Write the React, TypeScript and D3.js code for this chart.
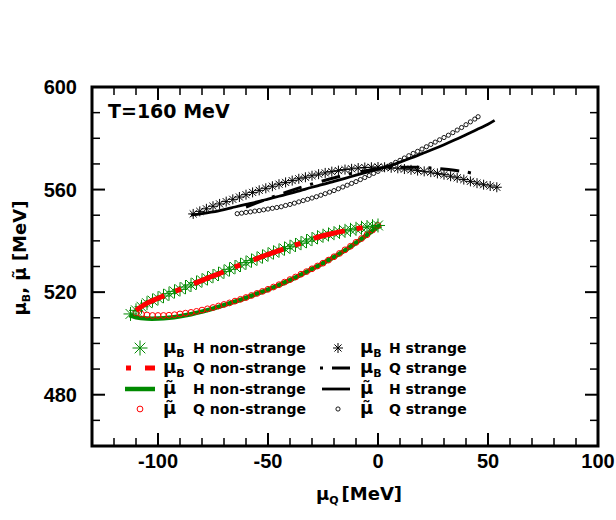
import React from "react";
import * as d3 from "d3";

// ---------- data ----------
// mu_B, H non-strange (green asterisks) and Q non-strange (red dash-dot): upper branch
const muBHnsX = [-112.5,-110,-107.5,-105,-102.5,-100,-97.5,-95,-92.5,-90,-87.5,-85,-82.5,-80,-77.5,-75,-72.5,-70,-67.5,-65,-62.5,-60,-57.5,-55,-52.5,-50,-47.5,-45,-42.5,-40,-37.5,-35,-32.5,-30,-27.5,-25,-22.5,-20,-17.5,-15,-12.5,-10,-7.5,-5,-2.5,0];
const muBHnsY = [511.5,512.9,514.3,515.7,516.7,517.6,518.5,519.4,520.3,521.1,522.0,522.8,523.7,524.6,525.4,526.3,527.1,528.0,528.9,529.8,530.6,531.5,532.3,533.1,533.9,534.7,535.5,536.2,537.0,537.7,538.4,539.1,539.9,540.7,541.4,542.0,542.5,543.0,543.5,543.9,544.3,544.7,545.1,545.4,545.7,546.0];
const muBQnsX = [-110,-105,-100,-95,-90,-85,-80,-75,-70,-65,-60,-55,-50,-45,-40,-35,-30,-25,-20,-15,-10,-6];
const muBQnsY = [512.9,515.7,517.6,519.4,521.1,522.8,524.6,526.3,528.0,529.8,531.5,533.1,534.7,536.2,537.7,539.1,540.7,542.0,543.0,543.9,544.7,545.2];
// mu tilde, H non-strange (green line)
const muTHnsX = [-113,-110,-105,-100,-95,-90,-85,-80,-75,-70,-65,-60,-55,-50,-45,-40,-35,-30,-25,-20,-15,-10,-5,0,1.5];
const muTHnsY = [511.0,510.2,509.7,509.7,510.0,510.6,511.4,512.4,513.6,514.9,516.3,517.8,519.4,521.0,522.8,524.7,526.8,529.0,531.3,533.7,536.3,539.2,542.3,545.5,546.0];
// mu tilde, Q non-strange (red circles)
const muTQnsX = [-110,-107.5,-105,-102.5,-100,-97.5,-95,-92.5,-90,-87.5,-85,-82.5,-80,-77.5,-75,-72.5,-70,-67.5,-65,-62.5,-60,-57.5,-55,-52.5,-50,-47.5,-45,-42.5,-40,-37.5,-35,-32.5,-30,-27.5,-25,-22.5,-20,-17.5,-15,-12.5,-10,-7.5,-5,-2.5,0];
const muTQnsY = [511.9,511.4,511.1,510.9,510.9,510.9,511.0,511.2,511.5,511.8,512.1,512.5,513.0,513.5,514.0,514.6,515.2,515.8,516.5,517.2,517.9,518.7,519.5,520.3,521.1,522.0,522.9,523.9,524.9,525.9,527.0,528.0,529.1,530.2,531.3,532.5,533.8,535.1,536.5,537.9,539.4,540.9,542.4,544.2,546.0];

// mu_B, H strange (black asterisks)
const muBHsX = [-84,-81,-78,-75,-72,-69,-66,-63,-60,-57,-54,-51,-48,-45,-42,-39,-36,-33,-30,-27,-24,-21,-18,-15,-12,-9,-6,-3,0,3,6,9,12,15,18,21,24,27,30,33,36,39,42,45,48,51,54];
const muBHsY = [550.5,551.5,552.5,553.5,554.4,555.3,556.2,557.1,558.0,558.9,559.7,560.5,561.3,562.1,562.8,563.5,564.2,564.8,565.4,566.0,566.5,567.0,567.4,567.8,568.1,568.4,568.6,568.7,568.8,568.7,568.5,568.3,568.0,567.7,567.4,567.1,566.8,566.3,565.8,565.2,564.6,563.9,563.2,562.5,561.9,561.4,560.9];
// mu_B, Q strange (black dash-dot)
const muBQsX = [-60,-52,-42,-32,-22,-12,-2,8,17,25,32,39,45];
const muBQsY = [553.2,555.8,558.9,561.7,564.1,566.3,567.8,568.6,568.7,568.4,567.8,567.0,566.0];
// mu tilde, H strange (black solid)
const muTHsX = [-85,-80,-75,-70,-65,-60,-55,-50,-45,-40,-35,-30,-25,-20,-15,-10,-5,0,5,10,15,20,25,30,35,40,45,50,53];
const muTHsY = [550.0,550.6,551.3,552.2,553.2,554.2,555.2,556.3,557.4,558.5,559.7,560.9,562.0,563.2,564.4,565.6,566.8,568.0,569.2,570.7,572.3,574.0,575.7,577.5,579.4,581.4,583.4,585.5,587.0];
// mu tilde, Q strange (small black circles)
const muTQsX = [-64,-62,-60,-58,-56,-54,-52,-50,-48,-46,-44,-42,-40,-38,-36,-34,-32,-30,-28,-26,-24,-22,-20,-18,-16,-14,-12,-10,-8,-6,-4,-2,0,2,4,6,8,10,12,14,16,18,20,22,24,26,28,30,32,34,36,38,40,42,44,45.5];
const muTQsY = [550.6,550.8,551.1,551.3,551.6,551.8,552.1,552.4,552.7,553.0,553.3,553.8,554.2,554.7,555.2,555.7,556.2,556.7,557.2,557.8,558.4,559.0,559.6,560.3,561.0,561.7,562.4,563.1,563.9,564.7,565.5,566.3,567.1,568.0,568.8,569.7,570.6,571.4,572.3,573.2,574.1,574.9,575.8,576.7,577.6,578.5,579.4,580.3,581.2,582.2,583.2,584.2,585.3,586.4,587.5,588.4];

const xMajorTicks = [-100, -50, 0, 50, 100];
const yMajorTicks = [480, 520, 560, 600];
const xMinorTicks = [-120, -110, -90, -80, -70, -60, -40, -30, -20, -10, 10, 20, 30, 40, 60, 70, 80, 90];
const yMinorTicks = [470, 490, 500, 510, 530, 540, 550, 570, 580, 590];

// ---------- helpers ----------
const W = 616, H = 520;
const x = d3.scaleLinear().domain([-130, 100]).range([92, 598]);
const y = d3.scaleLinear().domain([460, 600]).range([446, 87]);

const zip = (xs: number[], ys: number[]) => xs.map((v, i) => [v, ys[i]] as [number, number]);
const line = d3.line<[number, number]>().x(d => x(d[0])).y(d => y(d[1])).curve(d3.curveCatmullRom);

const asterisk = (r: number) => {
  let p = "";
  [0, 45, 90, 135].forEach(a => {
    const dx = r * Math.cos((a * Math.PI) / 180);
    const dy = r * Math.sin((a * Math.PI) / 180);
    p += `M${-dx},${-dy}L${dx},${dy}`;
  });
  return p;
};

const GREEN = "#008a00";
const RED = "#ff0000";
const FONT = "'DejaVu Sans', sans-serif";
const TICKFONT = "'Liberation Sans', Arial, sans-serif";

export default function App() {
  const frameL = 92, frameR = 598, frameT = 87, frameB = 446;
  const majLen = 13, minLen = 8;
  const gAst = asterisk(7);
  const kAst = asterisk(5);
  const rows = [348, 368, 389, 409];
  const c1 = 140, c2 = 338;
  return (
    <svg width={W} height={H} style={{ position: "absolute", left: 0, top: 0, background: "#fff" }}>
      <rect x={0} y={0} width={W} height={H} fill="#fff" />
      {/* strange */}
      {zip(muTQsX, muTQsY).map((d, i) => (
        <circle key={"tqs" + i} cx={x(d[0])} cy={y(d[1])} r={2.1} fill="none" stroke="#000" strokeWidth={0.9} />
      ))}
      <path d={line(zip(muTHsX, muTHsY)) || ""} fill="none" stroke="#000" strokeWidth={2.8} />
      {zip(muBHsX, muBHsY).map((d, i) => (
        <path key={"bhs" + i} d={kAst} transform={`translate(${x(d[0])},${y(d[1])})`} stroke="#000" strokeWidth={1} fill="none" />
      ))}
      <path d={line(zip(muBQsX, muBQsY)) || ""} fill="none" stroke="#000" strokeWidth={3} strokeDasharray="19 9 3 9" />

      {/* non-strange */}
      <path d={line(zip(muTHnsX, muTHnsY)) || ""} fill="none" stroke={GREEN} strokeWidth={4.5} />
      {zip(muTQnsX, muTQnsY).map((d, i) => (
        <circle key={"tqn" + i} cx={x(d[0])} cy={y(d[1])} r={2.9} fill="none" stroke={RED} strokeWidth={1} />
      ))}
      {zip(muBHnsX, muBHnsY).map((d, i) => (
        <path key={"bhn" + i} d={gAst} transform={`translate(${x(d[0])},${y(d[1])})`} stroke={GREEN} strokeWidth={1} fill="none" />
      ))}
      <path d={line(zip(muBQnsX, muBQnsY)) || ""} fill="none" stroke={RED} strokeWidth={5} strokeDasharray="32 12 6 14" />

      {/* frame */}
      <rect x={frameL} y={frameT} width={frameR - frameL} height={frameB - frameT} fill="none" stroke="#000" strokeWidth={3} />
      {xMajorTicks.map(t => (
        <g key={"xM" + t}>
          <line x1={x(t)} x2={x(t)} y1={frameB} y2={frameB - majLen} stroke="#000" strokeWidth={2} />
          <line x1={x(t)} x2={x(t)} y1={frameT} y2={frameT + majLen} stroke="#000" strokeWidth={2} />
          <text x={x(t)} y={468} textAnchor="middle" fontFamily={TICKFONT} fontWeight="bold" fontSize={20}>{t}</text>
        </g>
      ))}
      {xMinorTicks.map(t => (
        <g key={"xm" + t}>
          <line x1={x(t)} x2={x(t)} y1={frameB} y2={frameB - minLen} stroke="#000" strokeWidth={1.5} />
          <line x1={x(t)} x2={x(t)} y1={frameT} y2={frameT + minLen} stroke="#000" strokeWidth={1.5} />
        </g>
      ))}
      {yMajorTicks.map(t => (
        <g key={"yM" + t}>
          <line x1={frameL} x2={frameL + majLen} y1={y(t)} y2={y(t)} stroke="#000" strokeWidth={2} />
          <line x1={frameR} x2={frameR - majLen} y1={y(t)} y2={y(t)} stroke="#000" strokeWidth={2} />
          <text x={77} y={y(t) + 7} textAnchor="end" fontFamily={TICKFONT} fontWeight="bold" fontSize={20}>{t}</text>
        </g>
      ))}
      {yMinorTicks.map(t => (
        <g key={"ym" + t}>
          <line x1={frameL} x2={frameL + minLen} y1={y(t)} y2={y(t)} stroke="#000" strokeWidth={1.5} />
          <line x1={frameR} x2={frameR - minLen} y1={y(t)} y2={y(t)} stroke="#000" strokeWidth={1.5} />
        </g>
      ))}

      {/* title */}
      <text x={108} y={118} fontFamily={FONT} fontWeight="bold" fontSize={19}>T=160 MeV</text>

      {/* axis labels */}
      <text x={359} y={500} textAnchor="middle" fontFamily={FONT} fontWeight="bold" fontSize={18}>
        <tspan>μ</tspan><tspan fontSize={11} dy={4}>Q</tspan><tspan dy={-4} dx={3}>[MeV]</tspan>
      </text>
      <text transform="translate(26,258) rotate(-90)" textAnchor="middle" fontFamily={FONT} fontWeight="bold" fontSize={18}>
        <tspan>μ</tspan><tspan fontSize={11} dy={4}>B</tspan><tspan dy={-4}>, </tspan><tspan>{"\u03BC\u0303"}</tspan><tspan> [MeV]</tspan>
      </text>

      {/* legend column 1 */}
      <path d={asterisk(7.5)} transform={`translate(${c1},${rows[0]})`} stroke={GREEN} strokeWidth={1} fill="none" />
      <line x1={126} x2={131} y1={rows[1]} y2={rows[1]} stroke={RED} strokeWidth={5} />
      <line x1={145} x2={155} y1={rows[1]} y2={rows[1]} stroke={RED} strokeWidth={5} />
      <line x1={125} x2={155} y1={rows[2]} y2={rows[2]} stroke={GREEN} strokeWidth={4.5} />
      <circle cx={c1} cy={rows[3]} r={2.9} fill="none" stroke={RED} strokeWidth={1} />

      {/* legend column 2 */}
      <path d={kAst} transform={`translate(${c2},${rows[0]})`} stroke="#000" strokeWidth={1} fill="none" />
      <line x1={320} x2={323} y1={rows[1]} y2={rows[1]} stroke="#000" strokeWidth={3} />
      <line x1={332} x2={350} y1={rows[1]} y2={rows[1]} stroke="#000" strokeWidth={3} />
      <line x1={322} x2={350} y1={rows[2]} y2={rows[2]} stroke="#000" strokeWidth={2.8} />
      <circle cx={c2} cy={rows[3]} r={2.1} fill="none" stroke="#000" strokeWidth={0.9} />

      {[
        { x0: 163, tx: 193, rows: [["B", "H non-strange"], ["B", "Q non-strange"], ["~", "H non-strange"], ["~", "Q non-strange"]] },
        { x0: 360, tx: 389, rows: [["B", "H strange"], ["B", "Q strange"], ["~", "H strange"], ["~", "Q strange"]] },
      ].map((col, ci) =>
        col.rows.map((r, ri) => (
          <g key={`lg${ci}-${ri}`}>
            <text x={col.x0} y={rows[ri] + 5} fontFamily={FONT} fontWeight="bold" fontSize={18}>
              {r[0] === "B" ? (
                <>
                  <tspan>μ</tspan><tspan fontSize={11} dy={4}>B</tspan>
                </>
              ) : (
                <tspan>{"\u03BC\u0303"}</tspan>
              )}
            </text>
            <text x={col.tx} y={rows[ri] + 5} fontFamily={FONT} fontWeight="bold" fontSize={14}>{r[1]}</text>
          </g>
        ))
      )}
    </svg>
  );
}
